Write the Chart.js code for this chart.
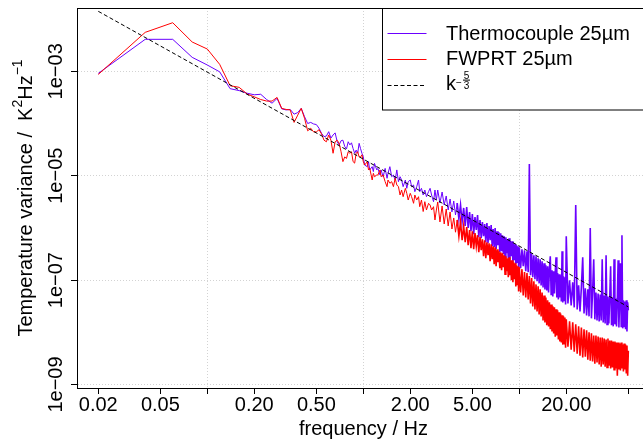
<!DOCTYPE html>
<html>
<head>
<meta charset="utf-8">
<title>Temperature variance spectra</title>
<script src="https://cdn.jsdelivr.net/npm/chart.js@4.4.1/dist/chart.umd.min.js"></script>
<style>
  html, body { margin: 0; padding: 0; background: #fff; overflow: hidden; }
  #wrap { position: absolute; left: 0; top: 0; width: 660px; height: 441px; }
</style>
</head>
<body>
<div id="wrap"><canvas id="spectrum-chart" width="660" height="441"></canvas></div>
<script>
// ---------------------------------------------------
// DATA
// ---------------------------------------------------
const freq = [
    0.02, 0.04, 0.06, 0.08, 0.10, 0.12, 0.14, 0.16, 0.18, 0.20,
    0.22, 0.24, 0.26, 0.28, 0.30, 0.32, 0.34, 0.36, 0.38, 0.40,
    0.42, 0.44, 0.46, 0.48, 0.50, 0.52, 0.54, 0.56, 0.58, 0.60,
    0.62, 0.64, 0.66, 0.68, 0.70, 0.72, 0.74, 0.76, 0.78, 0.80,
    0.82, 0.84, 0.86, 0.88, 0.90, 0.92, 0.94, 0.96, 0.98, 1.00,
    1.02, 1.06, 1.08, 1.10, 1.14, 1.16, 1.18, 1.22, 1.24, 1.28,
    1.30, 1.34, 1.38, 1.42, 1.44, 1.48, 1.52, 1.56, 1.60, 1.64,
    1.68, 1.72, 1.76, 1.80, 1.86, 1.90, 1.94, 2.00, 2.04, 2.10,
    2.14, 2.20, 2.26, 2.30, 2.36, 2.42, 2.48, 2.54, 2.62, 2.68,
    2.74, 2.82, 2.88, 2.94,
    3.0, 3.1, 3.2, 3.3, 3.4, 3.5, 3.6, 3.7, 3.8, 3.9,
    4.0, 4.1, 4.2, 4.3, 4.4, 4.5, 4.6, 4.7, 4.8, 4.9,
    5.0, 5.1, 5.2, 5.3, 5.4, 5.5, 5.6, 5.7, 5.8, 5.9,
    6.0, 6.1, 6.2, 6.3, 6.4, 6.5, 6.6, 6.7, 6.8, 6.9,
    7.0, 7.1, 7.2, 7.3, 7.4, 7.5, 7.6, 7.7, 7.8, 7.9,
    8.0, 8.1, 8.2, 8.3, 8.4, 8.5, 8.6, 8.7, 8.8, 8.9,
    9.0, 9.1, 9.2, 9.3, 9.4, 9.5, 9.6, 9.7, 9.8, 9.9,
    10.0, 10.2, 10.4, 10.6, 10.8, 11.0, 11.2, 11.4, 11.6, 11.8,
    12.0, 12.2, 12.4, 12.6, 12.8, 13.0, 13.2, 13.4, 13.6, 13.8,
    14.0, 14.2, 14.4, 14.6, 14.8, 15.0, 15.2, 15.4, 15.6, 15.8,
    16.0, 16.2, 16.4, 16.6, 16.8, 17.0, 17.2, 17.4, 17.6, 17.8,
    18.0, 18.2, 18.4, 18.6, 18.8, 19.0, 19.2, 19.4, 19.6, 19.8,
    20.0, 20.5, 21.0, 21.5, 22.0, 22.5, 23.0, 23.5, 24.0, 24.5,
    25.0, 25.5, 26.0, 26.5, 27.0, 27.5, 28.0, 28.5, 29.0, 29.5,
    30.0, 30.5, 31.0, 31.5, 32.0, 32.5, 33.0, 33.5, 34.0, 34.5,
    35.0, 35.5, 36.0, 36.5, 37.0, 37.5, 38.0, 38.5, 39.0, 39.5,
    40.0, 40.5, 41.0, 41.5, 42.0, 42.5, 43.0, 43.5, 44.0, 44.5,
    45.0, 45.5, 46.0, 46.5, 47.0, 47.5, 48.0, 48.5, 49.0, 49.5,
    50.0
];
const thermocouple = [
    9.12e-4, 4.10e-3, 4.10e-3, 1.85e-3, 1.32e-3, 9.77e-4, 4.65e-4, 4.27e-4, 3.80e-4, 3.55e-4,
    3.63e-4, 2.88e-4, 2.45e-4, 3.02e-4, 1.91e-4, 1.82e-4, 1.86e-4, 1.51e-4, 1.62e-4, 1.95e-4,
    1.35e-4, 1.00e-4, 1.05e-4, 9.80e-5, 9.55e-5, 8.13e-5, 6.46e-5, 5.62e-5, 5.75e-5, 6.97e-5,
    5.25e-5, 6.03e-5, 6.61e-5, 4.47e-5, 3.89e-5, 4.68e-5, 4.79e-5, 3.63e-5, 3.24e-5, 4.47e-5,
    3.89e-5, 4.27e-5, 3.31e-5, 2.69e-5, 3.09e-5, 2.69e-5, 4.17e-5, 3.31e-5, 2.69e-5, 2.29e-5,
    1.60e-5, 1.49e-5, 1.85e-5, 1.29e-5, 1.49e-5, 1.20e-5, 1.72e-5, 1.29e-5, 1.38e-5, 1.03e-5,
    1.29e-5, 9.57e-6, 1.38e-5, 8.92e-6, 1.11e-5, 1.49e-5, 9.57e-6, 1.03e-5, 8.27e-6, 1.29e-5,
    7.68e-6, 9.57e-6, 8.27e-6, 6.16e-6, 8.27e-6, 5.73e-6, 7.68e-6, 8.27e-6, 6.16e-6, 6.64e-6,
    4.94e-6, 6.16e-6, 8.27e-6, 4.94e-6, 5.73e-6, 4.27e-6, 5.32e-6, 3.96e-6, 4.94e-6, 5.73e-6,
    4.27e-6, 3.18e-6, 5.32e-6, 3.42e-6,
    5.32e-6, 3.00e-6, 4.87e-6, 2.75e-6, 4.09e-6, 2.20e-6, 3.58e-6, 2.02e-6, 3.28e-6, 1.77e-6,
    3.00e-6, 1.48e-6, 2.75e-6, 1.30e-6, 2.41e-6, 1.09e-6, 2.51e-6, 9.96e-7, 2.02e-6, 8.65e-7,
    1.85e-6, 7.58e-7, 1.62e-6, 9.12e-7, 1.77e-6, 6.64e-7, 1.42e-6, 6.35e-7, 1.30e-6, 6.94e-7,
    1.19e-6, 5.32e-7, 1.24e-6, 5.09e-7, 1.09e-6, 5.81e-7, 1.14e-6, 4.46e-7, 9.53e-7, 4.27e-7,
    9.96e-7, 3.91e-7, 8.65e-7, 4.66e-7, 8.27e-7, 3.42e-7, 7.92e-7, 3.58e-7, 7.25e-7, 3.14e-7,
    6.94e-7, 2.75e-7, 6.64e-7, 3.28e-7, 6.08e-7, 2.63e-7, 6.35e-7, 2.41e-7, 5.56e-7, 2.87e-7,
    5.56e-7, 2.20e-7, 5.09e-7, 2.41e-7, 4.87e-7, 2.02e-7, 4.66e-7, 2.20e-7, 4.46e-7, 1.77e-7,
    4.27e-7, 1.69e-7, 3.91e-7, 1.85e-7, 3.74e-7, 1.48e-7, 3.58e-7, 1.42e-7, 1.67e-5, 1.24e-7,
    3.28e-7, 1.14e-7, 3.00e-7, 1.04e-7, 2.87e-7, 9.53e-8, 2.63e-7, 8.65e-8, 2.51e-7, 7.92e-8,
    2.30e-7, 7.25e-8, 2.11e-7, 6.64e-8, 1.93e-7, 6.35e-8, 1.85e-7, 5.81e-8, 1.69e-7, 2.87e-7,
    5.32e-8, 1.55e-7, 4.87e-8, 1.48e-7, 5.56e-8, 1.42e-7, 2.75e-7, 4.66e-8, 1.36e-7, 4.27e-8,
    1.30e-7, 4.66e-8, 1.24e-7, 3.91e-8, 3.58e-7, 3.74e-8, 1.19e-7, 4.09e-8, 1.14e-7, 3.42e-8,
    6.94e-7, 3.58e-8, 9.96e-8, 3.28e-8, 9.12e-8, 3.00e-8, 2.75e-6, 2.75e-8, 7.92e-8, 2.51e-8,
    7.25e-8, 2.75e-7, 2.30e-8, 6.94e-8, 2.11e-8, 6.64e-8, 2.02e-8, 9.96e-7, 1.85e-8, 6.08e-8,
    2.51e-7, 1.77e-8, 5.81e-8, 1.69e-8, 5.56e-8, 1.62e-8, 5.32e-8, 1.69e-8, 2.51e-7, 1.55e-8,
    5.09e-8, 1.48e-8, 3.00e-7, 1.42e-8, 4.87e-8, 1.48e-8, 4.66e-8, 1.85e-7, 1.36e-8, 4.66e-8,
    1.30e-8, 2.51e-7, 1.42e-8, 4.46e-8, 1.30e-8, 4.27e-8, 2.41e-7, 1.24e-8, 4.27e-8, 2.11e-7,
    1.30e-8, 7.25e-7, 1.19e-8, 4.09e-8, 1.30e-8, 3.91e-8, 1.14e-8, 4.09e-8, 1.04e-8, 3.74e-8,
    2.63e-8
];
const fwprt = [
    8.71e-4, 5.58e-3, 8.53e-3, 3.64e-3, 2.67e-3, 1.36e-3, 5.30e-4, 4.93e-4, 3.67e-4, 3.24e-4,
    2.88e-4, 2.69e-4, 2.69e-4, 3.16e-4, 1.95e-4, 1.86e-4, 1.82e-4, 1.05e-4, 1.45e-4, 1.95e-4,
    1.26e-4, 7.24e-5, 8.13e-5, 6.92e-5, 6.92e-5, 7.59e-5, 6.31e-5, 4.79e-5, 4.47e-5, 6.03e-5,
    4.79e-5, 2.69e-5, 4.47e-5, 4.79e-5, 4.17e-5, 2.88e-5, 1.86e-5, 2.29e-5, 2.14e-5, 2.88e-5,
    2.69e-5, 2.88e-5, 1.86e-5, 1.74e-5, 2.69e-5, 2.88e-5, 2.29e-5, 2.29e-5, 2.51e-5, 1.86e-5,
    1.60e-5, 1.85e-5, 1.29e-5, 1.38e-5, 8.27e-6, 1.11e-5, 9.57e-6, 1.03e-5, 1.03e-5, 1.29e-5,
    9.57e-6, 1.03e-5, 7.68e-6, 6.16e-6, 8.27e-6, 7.15e-6, 7.68e-6, 6.16e-6, 8.92e-6, 6.64e-6,
    6.16e-6, 4.27e-6, 5.32e-6, 3.96e-6, 5.73e-6, 4.60e-6, 3.42e-6, 4.60e-6, 3.96e-6, 2.96e-6,
    4.27e-6, 3.42e-6, 3.96e-6, 2.55e-6, 3.42e-6, 2.06e-6, 3.18e-6, 2.20e-6, 2.96e-6, 2.75e-6,
    2.20e-6, 2.55e-6, 1.42e-6, 2.20e-6,
    3.14e-6, 1.30e-6, 2.63e-6, 1.19e-6, 2.30e-6, 1.09e-6, 2.02e-6, 9.53e-7, 1.55e-6, 8.27e-7,
    1.42e-6, 6.94e-7, 1.30e-6, 5.81e-7, 1.09e-6, 5.32e-7, 1.04e-6, 4.66e-7, 9.12e-7, 4.09e-7,
    8.65e-7, 3.91e-7, 7.92e-7, 4.46e-7, 7.25e-7, 3.42e-7, 6.64e-7, 3.74e-7, 6.08e-7, 2.87e-7,
    5.81e-7, 2.63e-7, 5.32e-7, 3.00e-7, 5.09e-7, 2.30e-7, 4.87e-7, 2.51e-7, 4.46e-7, 2.02e-7,
    4.27e-7, 1.85e-7, 3.91e-7, 2.20e-7, 3.58e-7, 1.69e-7, 3.42e-7, 1.55e-7, 3.28e-7, 1.77e-7,
    3.00e-7, 1.30e-7, 2.87e-7, 1.48e-7, 2.63e-7, 1.14e-7, 2.75e-7, 1.24e-7, 2.41e-7, 9.96e-8,
    2.41e-7, 9.12e-8, 2.20e-7, 1.04e-7, 2.11e-7, 7.58e-8, 1.93e-7, 8.27e-8, 1.85e-7, 6.08e-8,
    1.77e-7, 5.81e-8, 1.62e-7, 5.09e-8, 1.42e-7, 4.66e-8, 1.36e-7, 4.27e-8, 1.19e-7, 3.58e-8,
    1.09e-7, 3.14e-8, 9.53e-8, 2.75e-8, 8.27e-8, 2.51e-8, 7.58e-8, 2.20e-8, 6.64e-8, 2.02e-8,
    5.81e-8, 1.69e-8, 5.09e-8, 1.55e-8, 4.66e-8, 1.36e-8, 4.09e-8, 1.30e-8, 3.74e-8, 1.14e-8,
    3.42e-8, 1.04e-8, 3.14e-8, 9.53e-9, 3.00e-8, 8.27e-9, 2.75e-8, 8.65e-9, 2.63e-8, 7.25e-9,
    2.41e-8, 6.64e-9, 2.30e-8, 6.35e-9, 2.11e-8, 5.81e-9, 2.02e-8, 6.08e-9, 1.93e-8, 5.09e-9,
    1.77e-8, 5.32e-9, 1.62e-8, 4.66e-9, 1.55e-8, 4.27e-9, 1.42e-8, 3.91e-9, 1.30e-8, 3.58e-9,
    1.24e-8, 3.28e-9, 1.14e-8, 3.42e-9, 1.09e-8, 3.00e-9, 9.96e-9, 2.87e-9, 9.53e-9, 2.75e-9,
    8.65e-9, 2.51e-9, 8.65e-9, 2.63e-9, 8.27e-9, 2.41e-9, 7.92e-9, 2.20e-9, 7.92e-9, 2.41e-9,
    7.58e-9, 2.20e-9, 7.25e-9, 2.11e-9, 7.58e-9, 2.30e-9, 6.94e-9, 2.02e-9, 6.94e-9, 2.11e-9,
    6.64e-9, 1.93e-9, 6.64e-9, 2.02e-9, 6.35e-9, 1.48e-9, 6.35e-9, 1.93e-9, 6.08e-9, 1.85e-9,
    6.35e-9, 2.02e-9, 5.81e-9, 1.77e-9, 6.08e-9, 1.93e-9, 5.81e-9, 1.69e-9, 5.56e-9, 1.48e-9,
    4.46e-9
];
// k^(-5/3) reference line: its two end points
const slopeFreq = [ 0.02, 50 ];
const slopeValue = [ 1.41e-2, 3.06e-8 ];
// axes
const xTicks = [ 0.02, 0.05, 0.1, 0.2, 0.5, 1, 2, 5, 10, 20, 50 ];
const xTickLabels = [ '0.02', '0.05', '', '0.20', '0.50', '', '2.00', '5.00', '', '20.00', '' ];
const xGridAt = [ 0.1, 1, 10 ];
const yTicks = [ 1e-9, 1e-7, 1e-5, 1e-3 ];
const yTickLabels = [ '1e\u221209', '1e\u221207', '1e\u221205', '1e\u221203' ];
const seriesNames = [ 'Thermocouple 25\u00b5m', 'FWPRT 25\u00b5m' ];
// ---------------------------------------------------
window.addEventListener( 'load', function () {
    const FONT = "'Liberation Sans', Arial, Helvetica, sans-serif";
    const PURPLE = '#6a00ff';
    const RED = '#ff0000';
    Chart.defaults.font.family = FONT;
    Chart.defaults.font.size = 20;
    Chart.defaults.color = '#000';

    const toPoints = function ( xs, ys ) {
        return xs.map( ( f, i ) => ( { x: f, y: ys[ i ] } ) );
    };
    // the dense noisy part of the spectra is drawn a bit heavier so it reads as a band
    const denseWidth = function ( c ) {
        return c.p0.parsed.x >= 4 ? 1.6 : 1;
    };

    // ---------------------------------------------------
    // frame + legend + y title drawn on top of the plot
    // ---------------------------------------------------
    const decorations = {
        id: 'decorations',
        afterDatasetsDraw( chart ) {
            const ctx = chart.ctx;
            const a = chart.chartArea;
            ctx.save();
            ctx.strokeStyle = '#000';
            ctx.lineWidth = 1;
            ctx.setLineDash( [] );
            ctx.strokeRect( Math.round( a.left ) + 0.5, Math.round( a.top ) + 0.5,
                Math.round( a.right - a.left ), Math.round( a.bottom - a.top ) );

            // legend box
            const lx = 382.5, ly = 8.5;
            ctx.fillStyle = '#fff';
            ctx.fillRect( lx, ly, 300, 101.5 );
            ctx.strokeRect( lx, ly, 300, 101.5 );
            const rows = [ 33.5, 59.5, 85.5 ];
            const cols = [ PURPLE, RED, '#000' ];
            rows.forEach( ( ry, i ) => {
                ctx.beginPath();
                ctx.strokeStyle = cols[ i ];
                ctx.setLineDash( i === 2 ? [ 4, 2.5 ] : [] );
                ctx.moveTo( 387.5, ry );
                ctx.lineTo( 426.5, ry );
                ctx.stroke();
            } );
            ctx.setLineDash( [] );
            ctx.fillStyle = '#000';
            ctx.textBaseline = 'alphabetic';
            ctx.textAlign = 'left';
            ctx.font = '20px ' + FONT;
            ctx.fillText( seriesNames[ 0 ], 446, 39.5 );
            ctx.fillText( seriesNames[ 1 ], 446, 64.5 );
            ctx.fillText( 'k', 446, 89.5 );
            ctx.font = '10px ' + FONT;
            ctx.fillText( '\u2212', 456, 86 );
            ctx.textAlign = 'center';
            ctx.fillText( '5', 466.5, 78.5 );
            ctx.fillText( '3', 466.5, 88.5 );
            ctx.fillRect( 463, 79.6, 7, 1 );
            ctx.restore();
        },
        afterDraw( chart ) {
            const ctx = chart.ctx;
            const parts = [
                [ 'Temperature variance /  K', 20, 0 ],
                [ '2', 14, -10 ],
                [ 'Hz', 20, 0 ],
                [ '\u22121', 14, -10 ]
            ];
            ctx.save();
            let total = 0;
            parts.forEach( p => {
                ctx.font = p[ 1 ] + 'px ' + FONT;
                total += ctx.measureText( p[ 0 ] ).width;
            } );
            const cy = ( chart.chartArea.top + chart.chartArea.bottom ) / 2;
            ctx.translate( 31.5, cy );
            ctx.rotate( -Math.PI / 2 );
            ctx.fillStyle = '#000';
            ctx.textBaseline = 'alphabetic';
            ctx.textAlign = 'left';
            let u = -total / 2;
            parts.forEach( p => {
                ctx.font = p[ 1 ] + 'px ' + FONT;
                ctx.fillText( p[ 0 ], u, p[ 2 ] );
                u += ctx.measureText( p[ 0 ] ).width;
            } );
            ctx.restore();
        }
    };

    // ---------------------------------------------------
    const canvas = document.querySelector( '#spectrum-chart' );
    const spectrumChart = new Chart( canvas, {
        type: 'line',
        data: {
            datasets: [
                {
                    label: seriesNames[ 0 ],
                    data: toPoints( freq, thermocouple ),
                    borderColor: PURPLE,
                    borderWidth: 1,
                    pointRadius: 0,
                    tension: 0,
                    segment: { borderWidth: denseWidth },
                    order: 2
                },
                {
                    label: seriesNames[ 1 ],
                    data: toPoints( freq, fwprt ),
                    borderColor: RED,
                    borderWidth: 1,
                    pointRadius: 0,
                    tension: 0,
                    segment: { borderWidth: denseWidth },
                    order: 1
                },
                {
                    label: 'k^-5/3',
                    data: toPoints( slopeFreq, slopeValue ),
                    borderColor: '#000',
                    borderWidth: 1,
                    borderDash: [ 4, 2.5 ],
                    pointRadius: 0,
                    order: 0
                }
            ]
        },
        options: {
            responsive: false,
            animation: false,
            devicePixelRatio: 1,
            events: [],
            layout: { padding: { left: 0, top: 8, right: 10, bottom: 0 } },
            plugins: {
                legend: { display: false },
                tooltip: { enabled: false }
            },
            scales: {
                x: {
                    type: 'logarithmic',
                    position: 'bottom',
                    min: 0.01461,
                    max: 68.84,
                    afterFit: function ( scale ) { scale.height = 53; },
                    afterBuildTicks: function ( scale ) {
                        scale.ticks = xTicks.map( v => ( { value: v } ) );
                    },
                    ticks: {
                        autoSkip: false,
                        maxRotation: 0,
                        minRotation: 0,
                        padding: -1,
                        color: '#000',
                        font: { size: 20 },
                        callback: function ( value, index ) { return xTickLabels[ index ]; }
                    },
                    grid: {
                        color: function ( c ) {
                            return c.tick && xGridAt.includes( c.tick.value ) ? '#d3d3d3' : 'rgba(0,0,0,0)';
                        },
                        lineWidth: 1,
                        tickColor: '#000',
                        tickLength: 6,
                        tickWidth: 1,
                        tickBorderDash: []
                    },
                    border: { display: true, color: '#000', width: 1, dash: [ 1, 2 ] },
                    title: {
                        display: true,
                        text: 'frequency / Hz',
                        color: '#000',
                        font: { size: 20 },
                        padding: { top: 0, bottom: 0 }
                    }
                },
                y: {
                    type: 'logarithmic',
                    position: 'left',
                    min: 8.57e-10,
                    max: 1.632e-2,
                    afterFit: function ( scale ) { scale.width = 77; },
                    afterBuildTicks: function ( scale ) {
                        scale.ticks = yTicks.map( v => ( { value: v } ) );
                    },
                    ticks: {
                        autoSkip: false,
                        minRotation: 90,
                        maxRotation: 90,
                        crossAlign: 'center',
                        padding: -13.4,
                        color: '#000',
                        font: { size: 20 },
                        callback: function ( value, index ) { return yTickLabels[ index ]; }
                    },
                    grid: {
                        color: '#d3d3d3',
                        lineWidth: 1,
                        tickColor: '#000',
                        tickLength: 6,
                        tickWidth: 1,
                        tickBorderDash: []
                    },
                    border: { display: true, color: '#000', width: 1, dash: [ 1, 2 ] }
                }
            }
        },
        plugins: [ decorations ]
    } );
    // ---------------------------------------------------
}, false );
</script>
</body>
</html>
